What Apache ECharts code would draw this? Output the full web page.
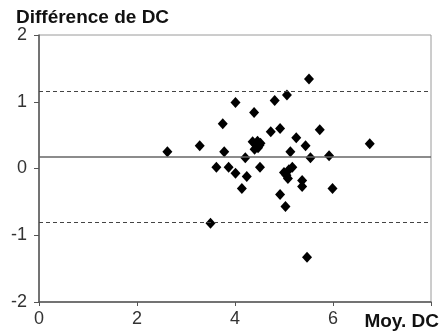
<!DOCTYPE html>
<html><head><meta charset="utf-8">
<script src="https://cdn.jsdelivr.net/npm/echarts@6/dist/echarts.min.js"></script>
<style>html,body{margin:0;padding:0;background:#fff}#c{width:439px;height:335px}</style>
</head><body><div id="c"></div>
<script>
var xTitle = "Moy. DC";
var yTitle = "Différence de DC";
var xTicks = [0, 2, 4, 6, 8];
var yTicks = [-2, -1, 0, 1, 2];
var meanX = [2.62,3.28,3.62,3.50,3.75,3.78,3.87,4.01,4.01,4.14,4.21,4.24,4.39,4.36,4.42,4.46,4.50,4.40,4.47,4.52,4.51,4.73,4.81,4.92,5.06,5.25,5.13,5.17,5.00,5.05,5.08,5.10,4.92,5.03,5.44,5.51,5.54,5.37,5.37,5.47,5.73,5.92,5.99,6.75];
var diffY = [0.25,0.34,0.02,-0.82,0.67,0.25,0.02,0.99,-0.07,-0.30,0.16,-0.12,0.84,0.40,0.36,0.41,0.35,0.29,0.31,0.38,0.02,0.55,1.02,0.60,1.10,0.46,0.25,0.02,-0.06,-0.10,-0.15,-0.02,-0.39,-0.57,0.34,1.34,0.16,-0.18,-0.27,-1.33,0.58,0.19,-0.30,0.37];
var meanDiff = 0.18;
var upperLimit = 1.15;
var lowerLimit = -0.81;

var pts = meanX.map(function (x, i) { return [x, diffY[i]]; });
var chart = echarts.init(document.getElementById('c'), null, {renderer: 'canvas'});
var font = 'Liberation Sans, Arial, sans-serif';
chart.setOption({
  animation: false,
  backgroundColor: '#fff',
  grid: {left: 39, right: 8, top: 35, bottom: 33, show: true, borderColor: '#9a9a9a', borderWidth: 1},
  xAxis: {
    type: 'value', min: xTicks[0], max: xTicks[xTicks.length - 1], interval: 2,
    axisLine: {onZero: false, lineStyle: {color: '#555', width: 1.5}},
    axisTick: {show: true, length: 4, inside: false, lineStyle: {color: '#555'}},
    splitLine: {show: false},
    axisLabel: {fontFamily: font, fontSize: 18, color: '#333', margin: 8,
      formatter: function (v) { return v === 8 ? '' : String(v); }}
  },
  yAxis: {
    type: 'value', min: yTicks[0], max: yTicks[yTicks.length - 1], interval: 1,
    axisLine: {onZero: false, lineStyle: {color: '#555', width: 1.5}},
    axisTick: {show: true, length: 5, lineStyle: {color: '#555'}},
    splitLine: {show: false},
    axisLabel: {fontFamily: font, fontSize: 18, color: '#333', margin: 12, padding: [10, 0, 0, 0]}
  },
  graphic: [
    {type: 'text', left: 16, top: 8, style: {text: yTitle, font: 'bold 19px ' + font, fill: '#111'}},
    {type: 'text', right: 0, top: 312, style: {text: xTitle, font: 'bold 19px ' + font, fill: '#111'}}
  ],
  series: [{
    type: 'scatter',
    data: pts,
    symbol: 'diamond',
    symbolSize: [10, 11],
    itemStyle: {color: '#000', opacity: 1},
    markLine: {
      silent: true, symbol: 'none', label: {show: false},
      data: [
        {yAxis: meanDiff, lineStyle: {type: 'solid', color: '#666', width: 1.5}},
        {yAxis: upperLimit, lineStyle: {type: [4, 3], color: '#444', width: 1}},
        {yAxis: lowerLimit, lineStyle: {type: [4, 3], color: '#444', width: 1}}
      ]
    }
  }]
});
</script></body></html>
